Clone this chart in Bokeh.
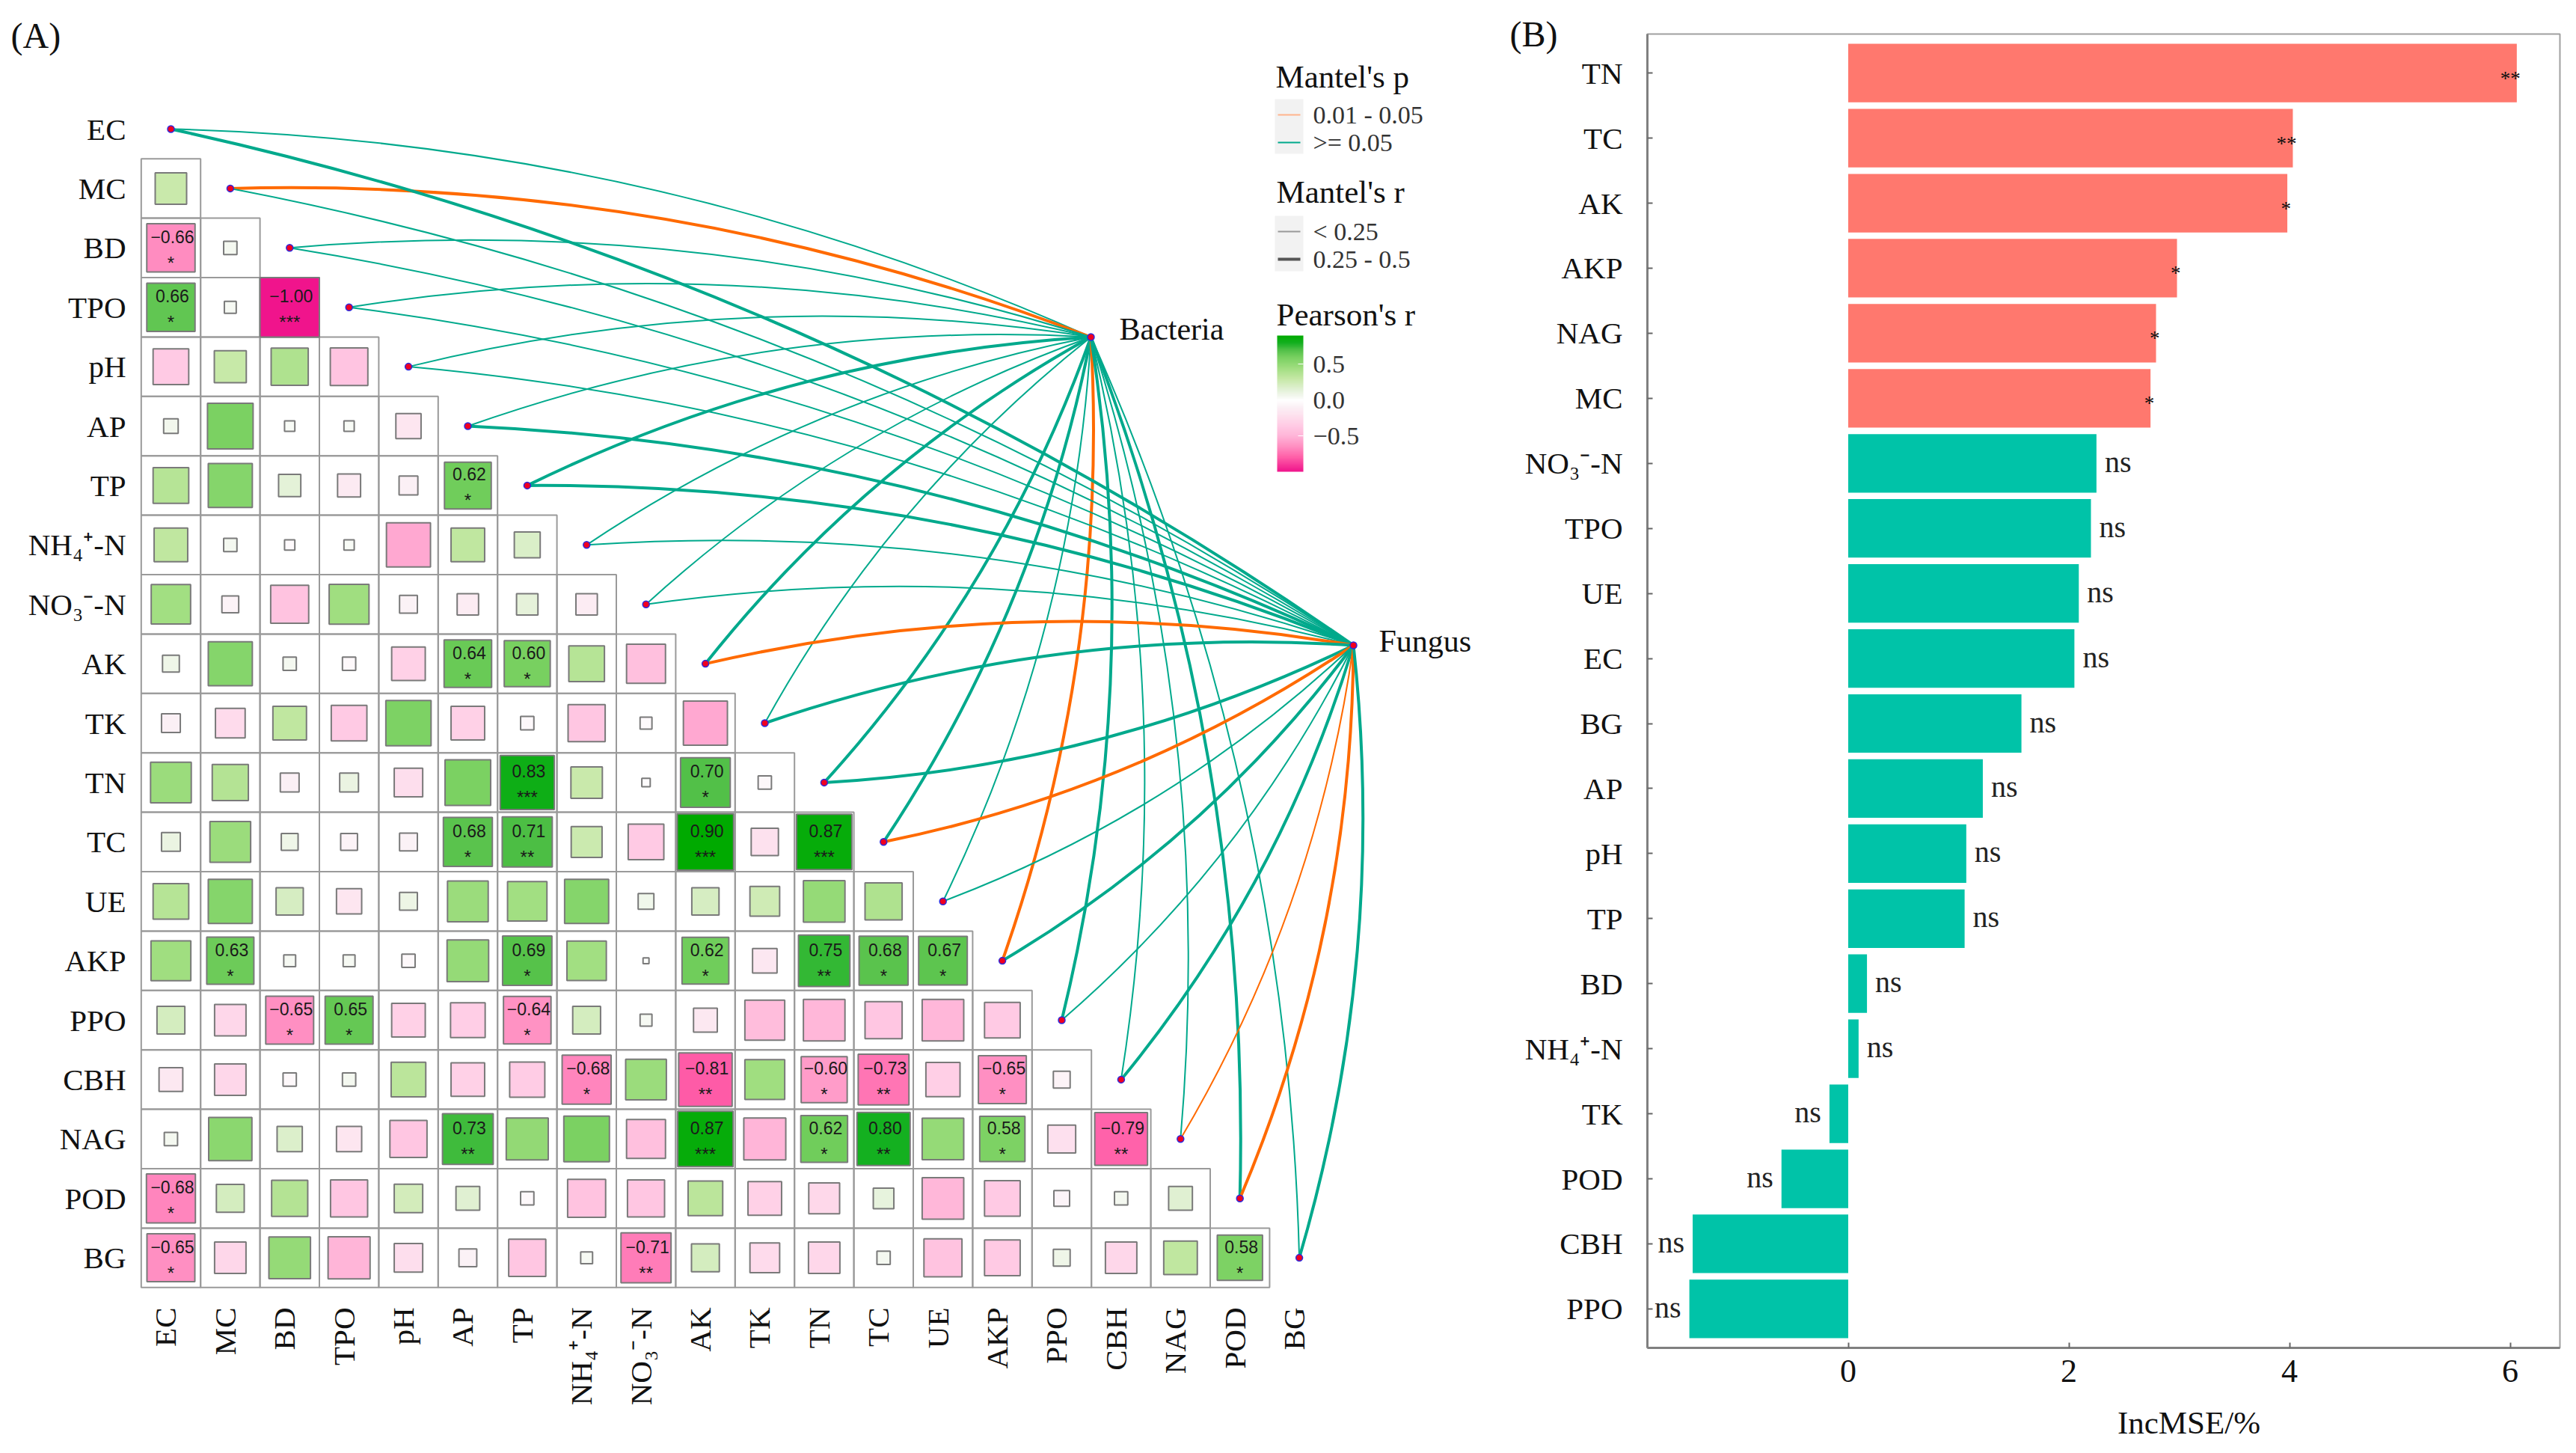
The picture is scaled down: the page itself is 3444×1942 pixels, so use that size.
import math
import numpy as np
from bokeh.plotting import figure
from bokeh.layouts import row
from bokeh.models import Range1d, FixedTicker, ColorBar, LinearColorMapper
from bokeh.core.properties import value
from bokeh.embed import file_html
from bokeh.resources import INLINE

# ---------- data ----------
env = ["EC","MC","BD","TPO","pH","AP","TP","NH₄⁺-N","NO₃⁻-N","AK","TK","TN","TC","UE","AKP","PPO","CBH","NAG","POD","BG"]
r_MC  = [.28]
r_BD  = [-.66,.05]
r_TPO = [.66,.04,-1.00]
r_pH  = [-.36,.29,.39,-.40]
r_AP  = [.06,.59,.03,.03,-.18]
r_TP  = [.36,.55,.14,-.15,-.10,.62]
r_NH4 = [.32,.05,-.03,.03,-.55,.32,.19]
r_NO3 = [.44,-.08,-.41,.45,-.09,-.13,.13,-.13]
r_AK  = [.08,.55,.05,-.05,-.32,.64,.60,.36,-.43]
r_TK  = [-.10,-.25,.32,-.36,.58,-.32,-.05,-.39,-.04,-.55]
r_TN  = [.47,.37,-.10,.10,-.23,.59,.83,.28,-.02,.70,-.05]
r_TC  = [.10,.47,.08,-.08,-.09,.68,.71,.27,-.36,.90,-.21,.87]
r_UE  = [.36,.55,.21,-.18,.09,.47,.44,.55,.07,.21,.25,.49,.39]
r_AKP = [.45,.63,.04,.04,-.05,.49,.69,.44,.01,.62,-.17,.75,.68,.67]
r_PPO = [.22,-.28,-.65,.65,-.32,-.34,-.64,.22,.04,-.16,-.45,-.49,-.39,-.49,-.36]
r_CBH = [-.16,-.28,-.05,.05,.34,-.32,-.35,-.68,.47,-.81,.45,-.60,-.73,-.33,-.65,-.08]
r_NAG = [.05,.53,.18,-.18,-.39,.73,.50,.59,-.43,.87,-.50,.62,.80,.49,.58,-.22,-.79]
r_POD = [-.68,.22,.37,-.39,.23,.16,-.05,-.41,-.39,.34,-.32,-.27,.12,-.49,-.36,-.07,.05,.16]
r_BG  = [-.65,-.28,.49,-.50,-.23,-.09,-.39,.04,-.71,.22,-.25,-.28,.05,-.41,-.36,.08,-.28,.32,.58]
r_rows = [r_MC,r_BD,r_TPO,r_pH,r_AP,r_TP,r_NH4,r_NO3,r_AK,r_TK,r_TN,r_TC,r_UE,r_AKP,r_PPO,r_CBH,r_NAG,r_POD,r_BG]
# significance: (row, column, stars)
stars = [(2,0,"*"),(3,0,"*"),(3,2,"***"),(6,5,"*"),(9,5,"*"),(9,6,"*"),(11,6,"***"),(11,9,"*"),
         (12,5,"*"),(12,6,"**"),(12,9,"***"),(12,11,"***"),(14,1,"*"),(14,6,"*"),(14,9,"*"),(14,11,"**"),
         (14,12,"*"),(14,13,"*"),(15,2,"*"),(15,3,"*"),(15,6,"*"),(16,7,"*"),(16,9,"**"),(16,11,"*"),
         (16,12,"**"),(16,14,"*"),(17,5,"**"),(17,9,"***"),(17,11,"*"),(17,12,"**"),(17,14,"*"),(17,16,"**"),
         (18,0,"*"),(19,0,"*"),(19,8,"**"),(19,18,"*")]
# Mantel: 1 = p in 0.01-0.05 (orange), 0 = p >= 0.05 (green); 1 = r in 0.25-0.5, 0 = r < 0.25
bac_p = [0,1,0,0,0,0,0,0,0,0,0,0,0,0,1,0,0,0,0,0]
bac_r = [0,1,0,0,0,0,1,0,0,1,0,1,1,0,1,1,0,0,1,0]
fun_p = [0,0,0,0,0,0,0,0,0,1,0,0,1,0,0,0,0,1,1,0]
fun_r = [1,0,0,0,0,1,1,0,0,1,1,1,1,0,1,0,1,0,1,1]

bar_names = ["TN","TC","AK","AKP","NAG","MC","NO₃⁻-N","TPO","UE","EC","BG","AP","pH","TP","BD","NH₄⁺-N","TK","POD","CBH","PPO"]
bar_vals  = [6.06,4.03,3.98,2.98,2.79,2.74,2.25,2.20,2.09,2.05,1.57,1.22,1.07,1.055,.17,.094,-.17,-.605,-1.41,-1.44]
bar_sig   = ["**","**","*","*","*","*"]+["ns"]*14
x_ticks_b = [0,2,4,6]

SERIF = "Liberation Serif"
SANS = "Liberation Sans"
GREEN, ORANGE = "#00A98C", "#FF6A00"

pos_stops = [(0,"#FFFFFF"),(.05,"#F4F8F0"),(.15,"#E2F1D5"),(.3,"#C5E8A5"),(.45,"#A0DE80"),(.6,"#78D060"),(.7,"#52C048"),(.8,"#14B020"),(.9,"#00AA00"),(1,"#00AA00")]
neg_stops = [(0,"#FFFFFF"),(.1,"#FBF0F5"),(.2,"#FDE3EF"),(.35,"#FFCCE5"),(.5,"#FFB5D8"),(.65,"#FF8FC2"),(.8,"#FF5FA8"),(1,"#F0148C")]
def colour(r):
    stops = pos_stops if r >= 0 else neg_stops
    a = abs(r)
    xs = [s[0] for s in stops]
    rgb = [[int(s[1][k:k+2],16) for s in stops] for k in (1,3,5)]
    return "#%02X%02X%02X" % tuple(int(round(np.interp(a,xs,c))) for c in rgb)

HEIGHT, SPLIT, TOTAL = 1926, 2010, 3428

# ---------- panel A layout ----------
CELL, X0, Y0 = 79.4, 228.0, 172.0
def ax(px): return (px-X0)/CELL
def ay(px): return (px-Y0)/CELL
L, B = 180, 1730
pA = figure(width=SPLIT, height=HEIGHT, output_backend="svg", toolbar_location=None,
            x_range=Range1d(ax(0),ax(SPLIT)), y_range=Range1d(ay(HEIGHT),ay(0)), frame_align=False,
            min_border_left=0, min_border_right=0, min_border_top=0, min_border_bottom=0)
pA.grid.visible = False
pA.outline_line_color = None
for a in (pA.xaxis[0],pA.yaxis[0]):
    a.axis_line_color = None
    a.major_tick_line_color = None
    a.minor_tick_line_color = None
    a.major_tick_in = 0; a.major_tick_out = 0
    a.major_label_text_font = SERIF
    a.major_label_text_font_size = "41px"
    a.major_label_text_color = "#111111"
pA.yaxis.ticker = FixedTicker(ticks=list(range(20)))
pA.yaxis.major_label_overrides = {i:n for i,n in enumerate(env)}
xtick_pos = [round(i-0.09,2) for i in range(20)]
pA.xaxis.ticker = FixedTicker(ticks=xtick_pos)
pA.xaxis.major_label_overrides = dict(zip(xtick_pos, env))
pA.xaxis.major_label_orientation = math.pi/2
pA.xaxis.major_label_standoff = 17
pA.yaxis.major_label_standoff = 12
pA.xaxis.fixed_location = ay(B)
pA.yaxis.fixed_location = ax(L)

cx, cy, rv = [], [], []
for j, vals in enumerate(r_rows, start=1):
    for i, v in enumerate(vals):
        cx.append(i); cy.append(j); rv.append(v)
rv = np.array(rv)
pA.rect(cx, cy, 1, 1, fill_color=None, line_color="#9A9A9A", line_width=2)
pA.rect(cx, cy, np.sqrt(np.abs(rv)), np.sqrt(np.abs(rv)), fill_color=[colour(v) for v in rv],
        line_color="#7A7A7A", line_width=2)
tx = [c for _,c,_ in stars]; ty = [r for r,_,_ in stars]; st = [s for _,_,s in stars]
lab = [("%.2f" % r_rows[r-1][c]).replace("-","−") for r,c,_ in stars]
pA.text(tx, ty, text=lab, text_font=value(SANS), text_font_size="23px", text_color="#1A1A1A",
        text_align="center", text_baseline="middle", x_offset=2, y_offset=-15)
pA.text(tx, ty, text=st, text_font=value(SANS), text_font_size="24px", text_color="#1A1A1A",
        text_align="center", text_baseline="middle", y_offset=20)

# curves
def curves(tx_px, ty_px, ps, rs):
    tx_, ty_ = ax(tx_px), ay(ty_px)
    for i in range(20):
        dx, dy = tx_-i, ty_-i
        sign = 1 if i <= 10 else -1
        cx_, cy_ = (i+tx_)/2 + sign*0.1*dy, (i+ty_)/2 - sign*0.1*dx
        pA.quadratic(x0=[i], y0=[i], x1=[tx_], y1=[ty_], cx=[cx_], cy=[cy_],
                     line_color=ORANGE if ps[i] else GREEN, line_width=4 if rs[i] else 2)
curves(1458, 450, bac_p, bac_r)
curves(1809, 862, fun_p, fun_r)
nx = list(range(20))+[ax(1458),ax(1809)]
ny = list(range(20))+[ay(450),ay(862)]
pA.scatter(nx, ny, size=9, fill_color="#F00020", line_color="#2A2AE0", line_width=1.5)

def ptext(px, py, s, size, align="left", color="#111111"):
    pA.text([ax(px)],[ay(py)], text=[s], text_font=value(SERIF), text_font_size=f"{size}px",
            text_color=color, text_align=align, text_baseline="middle")
ptext(14,47,"(A)",48)
ptext(1496,439,"Bacteria",42)
ptext(1843,856,"Fungus",42)
# legends
ptext(1705,102,"Mantel's p",43)
ptext(1706,256,"Mantel's r",43)
ptext(1706,420,"Pearson's r",43)
pA.quad(left=[ax(1704),ax(1704)], right=[ax(1742),ax(1742)], top=[ay(132),ay(288)], bottom=[ay(205),ay(362)],
        fill_color="#F2F2F2", line_color=None)
pA.segment([ax(1708)],[ay(153)],[ax(1738)],[ay(153)],line_color="#FFB48C",line_width=2)
pA.segment([ax(1708)],[ay(190)],[ax(1738)],[ay(190)],line_color=GREEN,line_width=2)
pA.segment([ax(1708)],[ay(309)],[ax(1738)],[ay(309)],line_color="#999999",line_width=2)
pA.segment([ax(1708)],[ay(346)],[ax(1738)],[ay(346)],line_color="#555555",line_width=4)
ptext(1755,153,"0.01 - 0.05",34,color="#333333")
ptext(1755,190,">= 0.05",34,color="#333333")
ptext(1755,309,"< 0.25",34,color="#333333")
ptext(1755,346,"0.25 - 0.5",34,color="#333333")
mapper = LinearColorMapper(palette=[colour(v) for v in np.linspace(-1,.9,256)], low=-1, high=.9)
cb = ColorBar(color_mapper=mapper, ticker=FixedTicker(ticks=[-.5,0,.5]),
              major_label_overrides={-0.5:"−0.5",0:"0.0",0.5:"0.5"},
              width=35, height=182, location=(1707,HEIGHT-630), padding=0, margin=0,
              background_fill_color=None, border_line_color=None, bar_line_color=None,
              major_tick_line_color="#FFFFFF", major_tick_in=7, minor_tick_line_color=None,
              label_standoff=13, major_label_text_font=SERIF, major_label_text_font_size="34px",
              major_label_text_color="#333333")
pA.add_layout(cb)

# ---------- panel B ----------
PL, PR, PT, PB = 2202, 3422, 45, 1801
U, XB0 = 147.5, 2470.5
ROW, YB0 = 86.93, 97.2
def bx(px): return (px-XB0)/U
def by(px): return (px-YB0)/ROW
pB = figure(width=TOTAL-SPLIT, height=HEIGHT, output_backend="svg", toolbar_location=None,
            x_range=Range1d(bx(SPLIT),bx(TOTAL)), y_range=Range1d(by(HEIGHT),by(0)), frame_align=False,
            min_border_left=0, min_border_right=0, min_border_top=0, min_border_bottom=0)
pB.grid.visible = False
pB.outline_line_color = None
bar_pos = list(range(len(bar_names)))
pB.quad(left=[bx(PL)], right=[bx(PR)], top=[by(PT)], bottom=[by(PB)], fill_color=None,
        line_color="#A0A0A0", line_width=2)
pB.hbar(y=bar_pos, left=0, right=bar_vals, height=0.9,
        fill_color=["#FF786E" if s != "ns" else "#00C3A8" for s in bar_sig], line_color=None)
sv = list(zip(bar_pos,bar_vals,bar_sig))
st_ = [t for t in sv if t[2]!="ns"]; pos = [t for t in sv if t[2]=="ns" and t[1]>=0]; neg = [t for t in sv if t[2]=="ns" and t[1]<0]
pB.text([t[1] for t in st_],[t[0] for t in st_],text=[t[2] for t in st_],text_font=value(SERIF),text_font_size="27px",
        text_align="right",text_baseline="middle",x_offset=5,y_offset=7,text_color="#111111")
pB.text([t[1] for t in pos],[t[0] for t in pos],text=[t[2] for t in pos],text_font=value(SERIF),text_font_size="40px",
        text_align="left",text_baseline="middle",x_offset=11,y_offset=-2,text_color="#222222")
pB.text([t[1] for t in neg],[t[0] for t in neg],text=[t[2] for t in neg],text_font=value(SERIF),text_font_size="40px",
        text_align="right",text_baseline="middle",x_offset=-11,y_offset=-2,text_color="#222222")
for a in (pB.xaxis[0],pB.yaxis[0]):
    a.axis_line_color = "#808080"; a.axis_line_width = 3
    a.major_tick_in = 7; a.major_tick_out = 0
    a.major_tick_line_color = "#666666"; a.major_tick_line_width = 2
    a.minor_tick_line_color = None
    a.major_label_text_font = SERIF
    a.major_label_text_color = "#111111"
pB.xaxis.ticker = FixedTicker(ticks=x_ticks_b)
pB.xaxis.fixed_location = by(PB)
pB.xaxis.bounds = (bx(PL), bx(PR))
pB.xaxis.major_label_text_font_size = "44px"
pB.xaxis.major_label_standoff = 16
pB.yaxis.ticker = FixedTicker(ticks=bar_pos)
pB.yaxis.major_label_overrides = dict(zip(bar_pos, bar_names))
pB.yaxis.fixed_location = bx(PL)
pB.yaxis.bounds = (by(PT), by(PB))
pB.yaxis.major_label_text_font_size = "41px"
pB.yaxis.major_label_standoff = 33
pB.text([bx(2926)],[by(1901)],text=["IncMSE/%"],text_font=value(SERIF),text_font_size="43px",
        text_align="center",text_baseline="middle",text_color="#111111")
pB.text([bx(2018)],[by(45)],text=["(B)"],text_font=value(SERIF),text_font_size="48px",
        text_align="left",text_baseline="middle",text_color="#111111")

page = row(pA, pB, spacing=0)
open("out.html","w").write(file_html(page, INLINE))
